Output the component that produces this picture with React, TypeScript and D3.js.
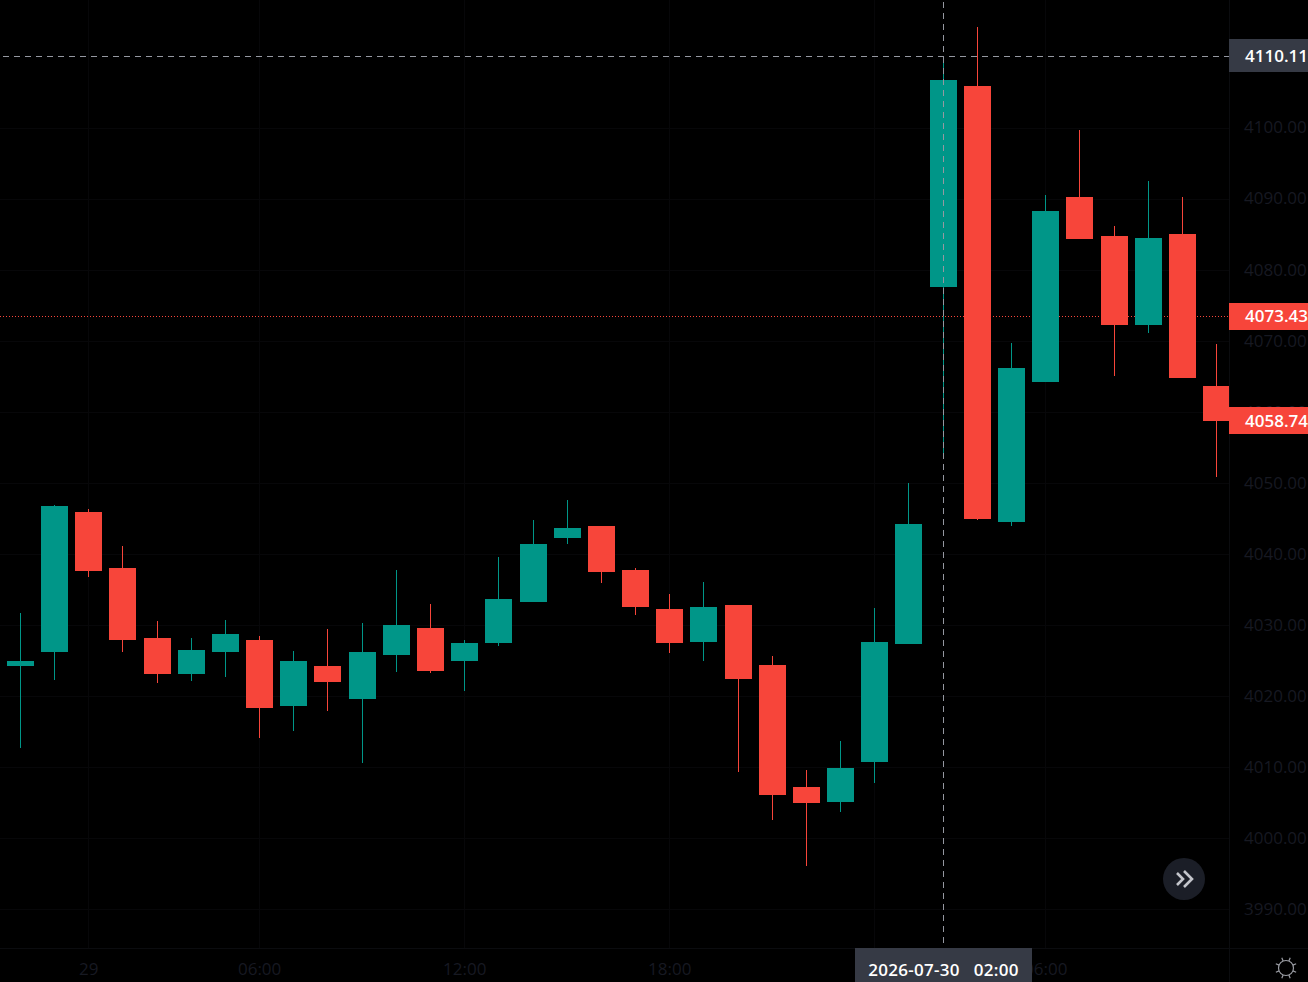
import React, { useRef, useEffect } from "react";
import * as d3 from "d3";

const opens = [4024.21, 4026.18, 4045.88, 4038.0, 4028.15, 4023.08, 4026.18, 4027.87, 4018.58, 4024.21, 4019.56, 4025.75, 4029.55, 4024.91, 4027.44, 4033.21, 4042.22, 4043.91, 4037.72, 4032.23, 4027.59, 4032.79, 4024.35, 4007.17, 4005.06, 4010.69, 4027.3, 4077.55, 4105.84, 4044.47, 4064.18, 4090.22, 4084.73, 4072.2, 4085.01, 4063.62];
const closes = [4024.91, 4046.73, 4037.58, 4027.87, 4023.08, 4026.46, 4028.71, 4018.3, 4024.91, 4021.95, 4026.18, 4029.98, 4023.5, 4027.44, 4033.64, 4041.38, 4043.63, 4037.44, 4032.51, 4027.44, 4032.51, 4022.38, 4006.05, 4004.92, 4009.85, 4027.59, 4044.19, 4106.69, 4044.89, 4066.15, 4088.25, 4084.31, 4072.2, 4084.45, 4064.74, 4058.74];
const highs = [4031.67, 4046.87, 4046.3, 4041.1, 4030.54, 4028.15, 4030.68, 4028.43, 4026.32, 4029.41, 4030.26, 4037.72, 4032.93, 4027.87, 4039.55, 4044.76, 4047.57, 4043.91, 4038.0, 4034.34, 4036.03, 4032.79, 4025.61, 4009.57, 4013.65, 4032.37, 4049.96, 4110.11, 4114.14, 4069.67, 4090.5, 4099.65, 4086.14, 4092.47, 4090.22, 4069.53];
const lows = [4012.66, 4022.24, 4036.73, 4026.18, 4021.81, 4022.09, 4022.66, 4014.07, 4015.06, 4017.87, 4010.55, 4023.36, 4023.22, 4020.69, 4027.02, 4033.21, 4041.38, 4035.89, 4031.38, 4026.04, 4024.91, 4009.29, 4002.53, 3996.06, 4003.66, 4007.74, 4027.3, 4054.19, 4044.76, 4043.91, 4064.18, 4084.31, 4065.02, 4071.08, 4064.74, 4050.81];

const priceTicks = [4100, 4090, 4080, 4070, 4060, 4050, 4040, 4030, 4020, 4010, 4000, 3990];
const gridIndex = [2, 7, 13, 19, 25, 30];
const timeTickIndex = [2, 7, 13, 19, 30];
const timeTickLabels = ["29", "06:00", "12:00", "18:00", "06:00"];

const crosshairPrice = 4110.11;
const crosshairIndex = 27;
const crosshairLabel = "2026-07-30   02:00";
const lastPrice = 4073.43;
const closePrice = 4058.74;

const UP = "#009688";
const DOWN = "#f7453a";
const FONT = "'Open Sans', sans-serif";

export default function App() {
  const chartRef = useRef<SVGSVGElement>(null);

  useEffect(() => {
    if (chartRef.current === null) return;
    const svg = d3.select(chartRef.current);
    svg.selectAll("*").remove();

    const width = 1308;
    const height = 982;
    const plotRight = 1229;
    const plotBottom = 948;

    const x = d3.scaleLinear().domain([0, 35]).range([19.9, 1216.06]);
    const y = d3.scaleLinear().domain([4100, 3990]).range([127.5, 909]);

    svg.append("rect").attr("width", width).attr("height", height).attr("fill", "#000");

    const clip = svg.append("clipPath").attr("id", "plot");
    clip.append("rect").attr("width", plotRight).attr("height", plotBottom);

    // grid
    const grid = svg.append("g").attr("stroke", "#070709").attr("stroke-width", 1);
    priceTicks.forEach((p) => {
      grid.append("line")
        .attr("x1", 0).attr("x2", plotRight)
        .attr("y1", Math.round(y(p)) + 0.5).attr("y2", Math.round(y(p)) + 0.5);
    });
    gridIndex.forEach((i) => {
      grid.append("line")
        .attr("x1", Math.round(x(i)) + 0.5).attr("x2", Math.round(x(i)) + 0.5)
        .attr("y1", 0).attr("y2", plotBottom);
    });

    // axis borders
    svg.append("line").attr("x1", plotRight + 0.5).attr("x2", plotRight + 0.5)
      .attr("y1", 0).attr("y2", height).attr("stroke", "#0b0c0f");
    svg.append("line").attr("x1", 0).attr("x2", width)
      .attr("y1", plotBottom + 0.5).attr("y2", plotBottom + 0.5).attr("stroke", "#0b0c0f");

    // last price line sits under the candles
    svg.append("line")
      .attr("x1", 0).attr("x2", plotRight)
      .attr("y1", Math.round(y(lastPrice)) + 0.5).attr("y2", Math.round(y(lastPrice)) + 0.5)
      .attr("stroke", DOWN).attr("stroke-dasharray", "1 2");

    const candles = svg.append("g").attr("clip-path", "url(#plot)");
    opens.forEach((o, i) => {
      const c = closes[i];
      const color = c >= o ? UP : DOWN;
      const cx = Math.round(x(i));
      candles.append("rect")
        .attr("x", cx).attr("width", 1)
        .attr("y", Math.round(y(highs[i])))
        .attr("height", Math.round(y(lows[i])) - Math.round(y(highs[i])))
        .attr("fill", color);
      const top = Math.round(y(Math.max(o, c)));
      const bottom = Math.round(y(Math.min(o, c)));
      candles.append("rect")
        .attr("x", cx - 13).attr("width", 27)
        .attr("y", top).attr("height", Math.max(bottom - top, 1))
        .attr("fill", color);
    });

    // price axis
    const priceAxis = svg.append("g")
      .attr("transform", `translate(${plotRight},0)`)
      .call(d3.axisRight(y).tickValues(priceTicks).tickSize(0).tickPadding(15).tickFormat(d3.format(".2f")));
    priceAxis.select(".domain").remove();
    priceAxis.selectAll("text")
      .attr("fill", "#171922")
      .style("font-family", FONT)
      .style("font-size", "17px");

    // time axis
    const timeX = d3.scalePoint<number>().domain(d3.range(36)).range([19.9, 1216.06]);
    const timeAxis = svg.append("g")
      .attr("transform", `translate(0,${plotBottom})`)
      .call(
        d3.axisBottom(timeX)
          .tickValues(timeTickIndex)
          .tickSize(0)
          .tickPadding(15)
          .tickFormat((d) => timeTickLabels[timeTickIndex.indexOf(d as number)])
      );
    timeAxis.select(".domain").remove();
    timeAxis.selectAll("text")
      .attr("fill", "#171922")
      .style("font-family", FONT)
      .style("font-size", "17px");

    // crosshair
    const crossX = Math.round(x(crosshairIndex)) + 0.5;
    const crossY = Math.round(y(crosshairPrice)) + 0.5;
    svg.append("line")
      .attr("x1", 3).attr("x2", plotRight)
      .attr("y1", crossY).attr("y2", crossY)
      .attr("stroke", "#9598a1").attr("stroke-dasharray", "6 5");
    svg.append("line")
      .attr("x1", crossX).attr("x2", crossX)
      .attr("y1", 2).attr("y2", plotBottom)
      .attr("stroke", "#9598a1").attr("stroke-dasharray", "6 5");

    // price labels
    const priceLabel = (value: number, fill: string, h: number) => {
      const cy = y(value);
      svg.append("rect")
        .attr("x", plotRight).attr("y", Math.round(cy - h / 2))
        .attr("width", width - plotRight).attr("height", h)
        .attr("fill", fill);
      svg.append("text")
        .attr("x", 1245).attr("y", cy + 6)
        .attr("fill", "#fff")
        .style("font-family", FONT)
        .style("font-size", "17px")
        .style("font-weight", 600)
        .text(d3.format(".2f")(value));
    };
    priceLabel(crosshairPrice, "#363a45", 33);
    priceLabel(lastPrice, DOWN, 27);
    priceLabel(closePrice, DOWN, 27);

    // time label
    svg.append("rect")
      .attr("x", 855).attr("y", plotBottom).attr("width", 177).attr("height", height - plotBottom)
      .attr("fill", "#363a45");
    svg.append("text")
      .attr("x", crossX).attr("y", 976)
      .attr("text-anchor", "middle")
      .attr("fill", "#fff")
      .style("white-space", "pre")
      .style("letter-spacing", "0.28px")
      .style("font-family", FONT)
      .style("font-size", "17px")
      .style("font-weight", 600)
      .text(crosshairLabel);

    // scroll button
    const button = svg.append("g").attr("transform", "translate(1184,879)");
    button.append("circle").attr("r", 21).attr("fill", "#1b1e27");
    button.append("path")
      .attr("d", "M-7,-6 L-1,0 L-7,6 M0,-8 L8,0 L0,8")
      .attr("fill", "none").attr("stroke", "#c3c5cb").attr("stroke-width", 2.6);

    // settings icon
    const gear = svg.append("g").attr("transform", "translate(1286,968)")
      .attr("fill", "none").attr("stroke", "#9a9ca3").attr("stroke-width", 1.2);
    gear.append("circle").attr("r", 7.5);
    d3.range(8).forEach((k) => {
      const a = (k * Math.PI) / 4 + Math.PI / 8;
      gear.append("line")
        .attr("x1", 7.5 * Math.cos(a)).attr("y1", 7.5 * Math.sin(a))
        .attr("x2", 11 * Math.cos(a)).attr("y2", 11 * Math.sin(a));
    });
  }, []);

  return (
    <div style={{ position: "fixed", inset: 0, background: "#000", overflow: "hidden" }}>
      <svg ref={chartRef} width={1308} height={982} style={{ display: "block" }}></svg>
    </div>
  );
}
